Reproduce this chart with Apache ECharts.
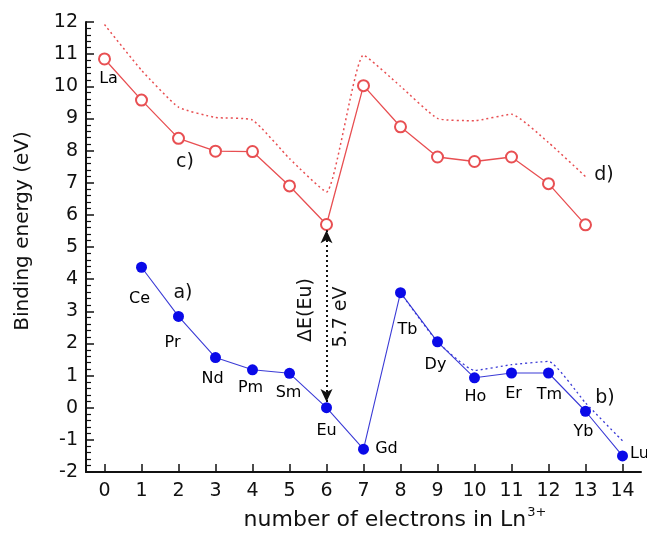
<!DOCTYPE html>
<html>
<head>
<meta charset="utf-8">
<script src="https://cdn.jsdelivr.net/npm/echarts@6/dist/echarts.min.js"></script>
<style>html,body{margin:0;padding:0;background:#fff;}#c{width:647px;height:537px;}</style>
</head>
<body>
<div id="c"></div>
<script>
// ---- data ----
var electrons = [0,1,2,3,4,5,6,7,8,9,10,11,12,13,14];
var elements = ['La','Ce','Pr','Nd','Pm','Sm','Eu','Gd','Tb','Dy','Ho','Er','Tm','Yb','Lu'];
// c) red open circles, n = 0..13
var curveC = [10.85, 9.57, 8.38, 7.98, 7.97, 6.90, 5.70, 10.02, 8.74, 7.80, 7.66, 7.80, 6.97, 5.69];
// d) red dotted, n = 0..13
var curveD = [11.92, 10.50, 9.35, 9.03, 8.95, 7.75, 6.71, 10.97, 10.00, 9.00, 8.93, 9.13, 8.25, 7.19];
// a) blue filled circles, n = 1..14
var curveA = [4.37, 2.84, 1.56, 1.18, 1.07, 0.00, -1.29, 3.58, 2.05, 0.93, 1.08, 1.08, -0.11, -1.50];
// b) blue dotted, n = 8..14
var curveB = [3.58, 2.05, 1.16, 1.34, 1.44, 0.15, -1.03];
var xTicks = [0,1,2,3,4,5,6,7,8,9,10,11,12,13,14];
var deltaEu = '5.7 eV';

// label offsets (layout only)
var labelOffsets = {
  La:[4,20], Ce:[-2,32], Pr:[-6,26], Nd:[-3,21], Pm:[-2,18], Sm:[-1,20], Eu:[0,23],
  Gd:[23,0], Tb:[7,37], Dy:[-2,23], Ho:[1,19], Er:[2,21], Tm:[1,22], Yb:[-2,21], Lu:[17,-2]
};

var RED = '#e84f52', BLUE = '#0a0ae8', BLUELINE = '#3b3bd6';
var font = 'DejaVu Sans';

var dataC = curveC.map(function(v,i){ return [electrons[i], v]; });
var dataD = curveD.map(function(v,i){ return [electrons[i], v]; });
var dataA = curveA.map(function(v,i){ return [electrons[i+1], v]; });
var dataB = curveB.map(function(v,i){ return [electrons[i+8], v]; });

var lblStyle = {show:true, position:'inside', fontFamily:font, fontSize:16, color:'#000', opacity:1};
var labelsLa = [{value:dataC[0], label:Object.assign({}, lblStyle, {formatter:'La', offset:labelOffsets.La})}];
var labelsA = dataA.map(function(d,i){
  var el = elements[i+1];
  return {value:d, label:Object.assign({}, lblStyle, {formatter:el, offset:labelOffsets[el]})};
});

var euIdx = 6;
var yBlueEu = curveA[euIdx-1], yRedEu = curveC[euIdx];

var chart = echarts.init(document.getElementById('c'), null, {renderer:'canvas'});
chart.setOption({
  animation:false,
  backgroundColor:'#fff',
  grid:{left:86, right:6, top:22, bottom:65},
  xAxis:{
    type:'value', min:-0.5, max:14.5,
    axisLine:{show:true, onZero:false, lineStyle:{color:'#111', width:2}},
    axisTick:{show:true, inside:true, length:8, lineStyle:{color:'#111', width:1.5}, customValues:xTicks},
    axisLabel:{fontFamily:font, fontSize:19, color:'#111', margin:10, customValues:xTicks},
    splitLine:{show:false}
  },
  yAxis:{
    type:'value', min:-2, max:12, interval:1,
    axisLine:{show:true, onZero:false, lineStyle:{color:'#111', width:2}},
    axisTick:{show:true, inside:true, length:8, lineStyle:{color:'#111', width:1.5}},
    minorTick:{show:true, splitNumber:5, length:5, lineStyle:{color:'#111', width:1.2}},
    axisLabel:{fontFamily:font, fontSize:19, color:'#111', margin:8},
    splitLine:{show:false}, minorSplitLine:{show:false}
  },
  series:[
    {type:'line', data:dataD, symbol:'none', smooth:0.15, lineStyle:{color:RED, width:1.5, type:[2,3]}, z:2},
    {type:'line', data:dataC, symbol:'emptyCircle', symbolSize:11,
      itemStyle:{color:RED, borderColor:RED, borderWidth:1.2}, lineStyle:{color:RED, width:1.3}, z:3},
    {type:'line', data:dataB, symbol:'none', smooth:0.15, lineStyle:{color:BLUELINE, width:1.3, type:[2,3]}, z:2},
    {type:'line', data:dataA, symbol:'circle', symbolSize:11,
      itemStyle:{color:BLUE}, lineStyle:{color:BLUELINE, width:1.1}, z:3,
      markLine:{
        silent:true, symbol:['arrow','arrow'], symbolSize:[9,13],
        lineStyle:{color:'#111', width:2, type:[2,3]},
        label:{show:false},
        data:[[{coord:[electrons[euIdx], yBlueEu+0.18]}, {coord:[electrons[euIdx], yRedEu-0.18]}]]
      }
    },
    {type:'scatter', data:labelsA.concat(labelsLa), symbolSize:1, itemStyle:{color:'rgba(0,0,0,0)'}, z:5, silent:true}
  ],
  graphic:[
    {type:'text', x:23, y:231, rotation:Math.PI/2, style:{text:'Binding energy (eV)', font:'20px DejaVu Sans', fill:'#111', align:'center', verticalAlign:'middle'}},
    {type:'text', x:395, y:531, style:{text:'{n|number of electrons in Ln}{s|3+}', align:'center', verticalAlign:'bottom',
      rich:{n:{fontFamily:font, fontSize:22, fill:'#111', verticalAlign:'bottom'},
            s:{fontFamily:font, fontSize:13, fill:'#111', verticalAlign:'top', padding:[0,0,12,1]}}}},
    {type:'text', x:183, y:293, style:{text:'a)', font:'19px DejaVu Sans', fill:'#111', align:'center', verticalAlign:'middle'}},
    {type:'text', x:605, y:398, style:{text:'b)', font:'19px DejaVu Sans', fill:'#111', align:'center', verticalAlign:'middle'}},
    {type:'text', x:185, y:162, style:{text:'c)', font:'19px DejaVu Sans', fill:'#111', align:'center', verticalAlign:'middle'}},
    {type:'text', x:604, y:175, style:{text:'d)', font:'19px DejaVu Sans', fill:'#111', align:'center', verticalAlign:'middle'}},
    {type:'text', x:306, y:310, rotation:Math.PI/2, style:{text:'\u0394E(Eu)', font:'19px DejaVu Sans', fill:'#111', align:'center', verticalAlign:'middle'}},
    {type:'text', x:341, y:317, rotation:Math.PI/2, style:{text:deltaEu, font:'19px DejaVu Sans', fill:'#111', align:'center', verticalAlign:'middle'}}
  ]
});
</script>
</body>
</html>
